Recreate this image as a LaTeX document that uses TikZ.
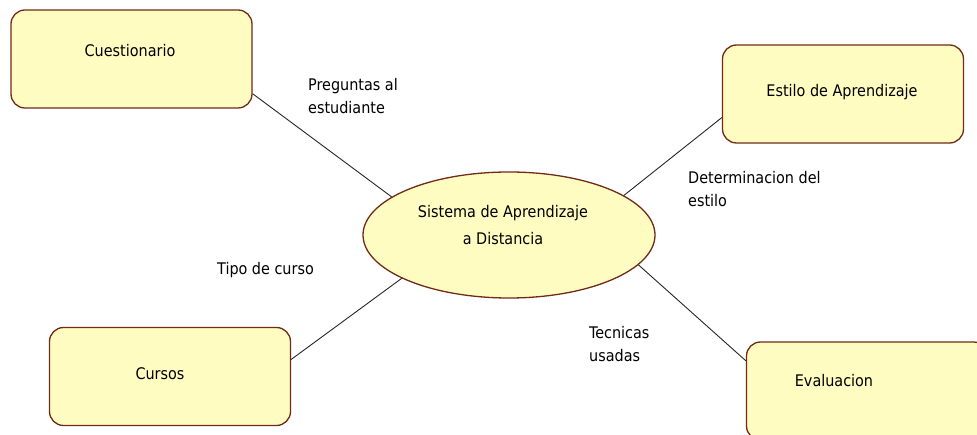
\documentclass[tikz,border=0pt]{standalone}
\usepackage{fontspec}
\setmainfont{DejaVu Sans Condensed}
\usepackage{xcolor}
\usepackage{tikz}
\usetikzlibrary{shapes.geometric}
\definecolor{relleno}{RGB}{255,252,194}
\definecolor{borde}{RGB}{112,42,22}

\begin{document}
\begin{tikzpicture}[x=1pt,y=-1pt,
		caja/.style={draw=borde,fill=relleno,line width=1.3pt,rounded corners=14pt,minimum width=241pt,minimum height=98pt,inner sep=0pt},
		elipse/.style={ellipse,draw=borde,fill=relleno,line width=1.3pt,minimum width=292pt,minimum height=126pt,inner sep=0pt},
		texto/.style={inner sep=0pt,font=\fontsize{16}{27}\selectfont},
		etiqueta/.style={inner sep=0pt,align=left,font=\fontsize{16}{23}\selectfont},
		linea/.style={line width=0.9pt,black!85}]
		\useasboundingbox (0,0) rectangle (977,435);
		\clip (0,0) rectangle (977,435);
		% cajas
		\node[caja] (cue) at (131.5,59) {};
		\node[caja] (est) at (843,94) {};
		\node[caja] (cur) at (170,376.5) {};
		\node[caja] (eva) at (867,391) {};
		\node[elipse] (sis) at (509,235) {};
		% textos
		\node[texto,anchor=base] (tcue) at (130,57) {Cuestionario};
		\node[texto,anchor=base] (test) at (842,97) {Estilo de Aprendizaje};
		\node[texto,anchor=base] (tcur) at (160,380) {Cursos};
		\node[texto,anchor=base] (teva) at (834,387) {Evaluacion};
		\node[texto,anchor=base,align=center] (tsis) at (503,245) {Sistema de Aprendizaje\\a Distancia};
		% conectores
		\draw[linea] (cue.-16) -- (sis.162);
		\draw[linea] (est.191) -- (sis.19);
		\draw[linea] (cur.8) -- (sis.202);
		\draw[linea] (eva.166) -- (sis.347);
		% etiquetas
		\node[etiqueta,anchor=base west] (lpre) at (308,114) {Preguntas al\\estudiante};
		\node[etiqueta,anchor=base west] (ldet) at (688,207) {Determinacion del\\estilo};
		\node[etiqueta,anchor=base west] (ltip) at (217,275) {Tipo de curso};
		\node[etiqueta,anchor=base west] (ltec) at (589,362) {Tecnicas\\usadas};
\end{tikzpicture}
\end{document}
